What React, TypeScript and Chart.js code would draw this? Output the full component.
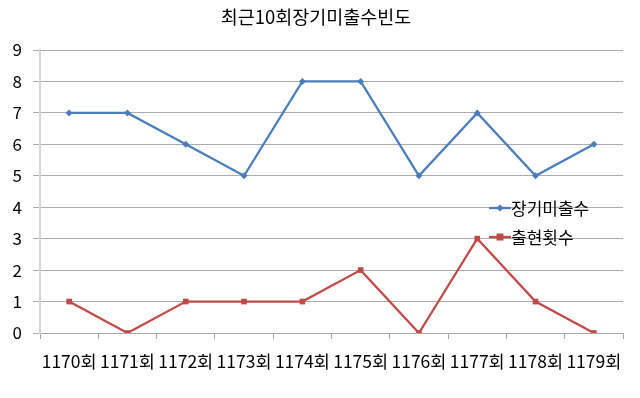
import React, { useEffect, useRef } from "react";
import { Chart, registerables } from "chart.js";

Chart.register(...registerables);

const titleText = "최근10회장기미출수빈도";
const categories = ["1170회", "1171회", "1172회", "1173회", "1174회", "1175회", "1176회", "1177회", "1178회", "1179회"];
const seriesNames = ["장기미출수", "출현횟수"];
const missedValues = [7, 7, 6, 5, 8, 8, 5, 7, 5, 6];
const appearValues = [1, 0, 1, 1, 1, 2, 0, 3, 1, 0];
const yTicks = [0, 1, 2, 3, 4, 5, 6, 7, 8, 9];

const BLUE = "#4A7EBB";
const RED = "#BE4B48";
const FONT = "'Noto Sans CJK KR', 'Noto Sans', sans-serif";

const overlayPlugin = {
  id: "overlay",
  afterDraw(chart: any) {
    const ctx = chart.ctx as CanvasRenderingContext2D;
    ctx.save();
    // title
    ctx.fillStyle = "#000";
    ctx.font = `18.5px ${FONT}`;
    ctx.textAlign = "center";
    ctx.textBaseline = "middle";
    ctx.fillText(titleText, 316, 17);
    // legend
    const items = [
      { name: seriesNames[0], color: BLUE, y: 208, style: "diamond" },
      { name: seriesNames[1], color: RED, y: 237, style: "square" },
    ];
    ctx.textAlign = "left";
    ctx.font = `17px ${FONT}`;
    for (const it of items) {
      ctx.strokeStyle = it.color;
      ctx.lineWidth = 2.25;
      ctx.beginPath();
      ctx.moveTo(489, it.y);
      ctx.lineTo(511, it.y);
      ctx.stroke();
      ctx.fillStyle = it.color;
      if (it.style === "diamond") {
        ctx.beginPath();
        ctx.moveTo(500, it.y - 3.5);
        ctx.lineTo(503.5, it.y);
        ctx.lineTo(500, it.y + 3.5);
        ctx.lineTo(496.5, it.y);
        ctx.closePath();
        ctx.fill();
      } else {
        ctx.fillRect(496.5, it.y - 3.5, 7, 7);
      }
      ctx.fillStyle = "#000";
      ctx.fillText(it.name, 511, it.y + 1);
    }
    ctx.restore();
  },
};

export default function App() {
  const ref = useRef<HTMLCanvasElement>(null);
  useEffect(() => {
    document.body.style.margin = "0";
    const chart = new Chart(ref.current!, {
      type: "line",
      data: {
        labels: categories,
        datasets: [
          {
            label: seriesNames[0],
            data: missedValues,
            borderColor: BLUE,
            backgroundColor: BLUE,
            borderWidth: 2.25,
            pointStyle: "rectRot",
            pointRadius: 3.5,
            pointBorderWidth: 0,
            tension: 0,
          },
          {
            label: seriesNames[1],
            data: appearValues,
            borderColor: RED,
            backgroundColor: RED,
            borderWidth: 2.25,
            pointStyle: "rect",
            pointRadius: 4,
            pointBorderWidth: 0,
            tension: 0,
          },
        ],
      },
      options: {
        animation: false,
        responsive: false,
        devicePixelRatio: 1,
        layout: { padding: { top: 50, right: 17, left: 0, bottom: 0 } },
        plugins: {
          legend: { display: false },
          title: { display: false },
          tooltip: { enabled: false },
        },
        scales: {
          x: {
            offset: true,
            grid: {
              offset: true,
              drawOnChartArea: false,
              drawTicks: true,
              tickLength: 6,
              color: "#A6A6A6",
            },
            border: { display: true, color: "#A6A6A6", width: 1 },
            ticks: {
              color: "#000",
              font: { family: FONT, size: 17.5 },
              padding: 12,
              maxRotation: 0,
              autoSkip: false,
            },
            afterFit(scale: any) {
              scale.height = 398 - 333;
            },
          },
          y: {
            min: 0,
            max: 9,
            afterBuildTicks(scale: any) {
              scale.ticks = yTicks.map((v) => ({ value: v }));
            },
            grid: {
              color: "#ABABAB",
              tickLength: 7,
              lineWidth: 1,
            },
            border: { display: true, color: "#D4D4D4", width: 2 },
            ticks: {
              color: "#000",
              font: { family: FONT, size: 17 },
              padding: 11,
            },
            afterFit(scale: any) {
              scale.width = 40;
            },
          },
        },
      },
      plugins: [overlayPlugin],
    });
    return () => chart.destroy();
  }, []);
  return (
    <div style={{ position: "fixed", left: 0, top: 0, width: 640, height: 398, background: "#fff" }}>
      <canvas ref={ref} width={640} height={398} style={{ width: 640, height: 398 }} />
    </div>
  );
}
